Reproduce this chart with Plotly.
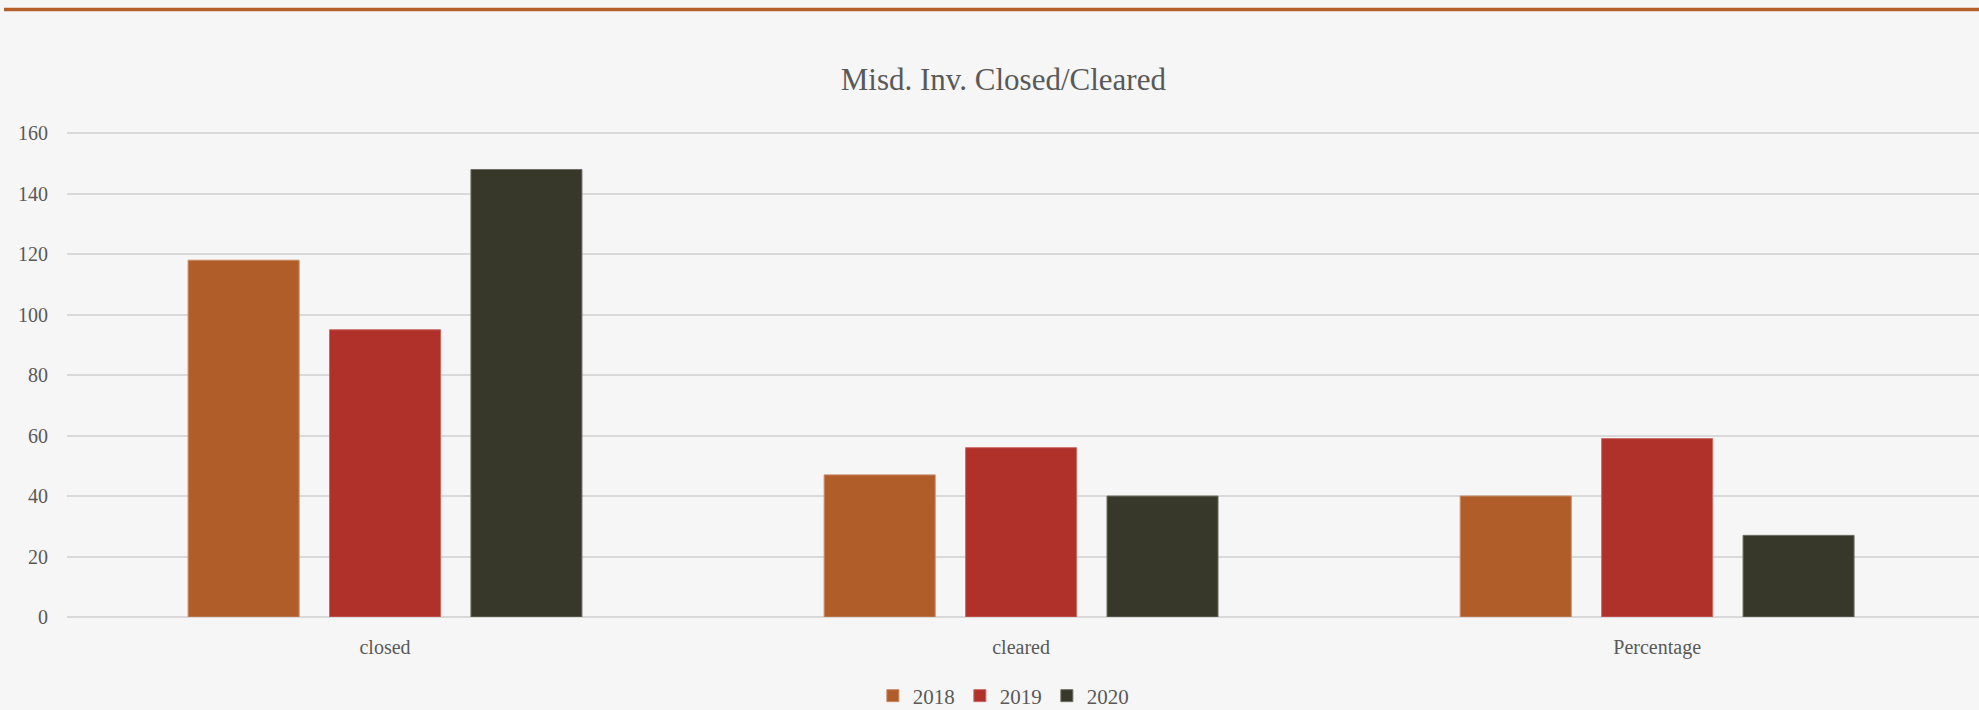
import plotly.graph_objects as go

categories = ["closed", "cleared", "Percentage"]
years = ["2018", "2019", "2020"]
values_2018 = [118, 47, 40]
values_2019 = [95, 56, 59]
values_2020 = [148, 40, 27]
colors = ["#B05D2A", "#B0302A", "#37382A"]
outlines = ["#C98A62", "#C86A64", "#6E6F62"]
y_ticks = [0, 20, 40, 60, 80, 100, 120, 140, 160]

series = [values_2018, values_2019, values_2020]

W, H = 1979, 710
ml, mr, mt, mb = 67, 0, 132, 93

fig = go.Figure()
for name, vals, c, oc in zip(years, series, colors, outlines):
    fig.add_trace(go.Bar(
        x=categories, y=vals, name=name,
        marker=dict(color=c, line=dict(color=oc, width=1)),
    ))

font_family = "Liberation Serif, DejaVu Serif, serif"
fig.update_layout(
    width=W, height=H,
    margin=dict(l=ml, r=mr, t=mt, b=mb),
    paper_bgcolor="#F6F6F6",
    plot_bgcolor="rgba(0,0,0,0)",
    barmode="group",
    bargap=0.333,
    bargroupgap=0.215,
    font=dict(family=font_family, color="#595959"),
    title=dict(
        text="Misd. Inv. Closed/Cleared",
        x=0.507, xanchor="center", xref="container",
        y=1 - 79 / H, yanchor="middle", yref="container",
        font=dict(size=31, color="#595959", family=font_family),
    ),
    legend=dict(
        orientation="h", x=0.507, xanchor="center", xref="container",
        y=1 - 696 / H, yanchor="middle", yref="container",
        font=dict(size=21, color="#595959"),
        itemwidth=30, traceorder="normal",
        bgcolor="rgba(0,0,0,0)",
    ),
    showlegend=True,
    xaxis=dict(
        range=[-0.5, 2.506],
        showgrid=False, showline=False, zeroline=False,
        ticks="", tickfont=dict(size=20, color="#595959"),
        ticklabelstandoff=16,
    ),
    yaxis=dict(
        range=[0, 160.4], tickvals=y_ticks,
        showgrid=True, gridcolor="#D9D9D9", gridwidth=1.5,
        zeroline=True, zerolinecolor="#D9D9D9", zerolinewidth=1.5,
        showline=False, ticks="",
        tickfont=dict(size=20, color="#595959"),
        ticklabelstandoff=18,
    ),
    shapes=[dict(
        type="line", xref="paper", yref="paper",
        x0=(4 - ml) / (W - ml - mr), x1=1.0,
        y0=(H - mb - 9.5) / (H - mt - mb), y1=(H - mb - 9.5) / (H - mt - mb),
        line=dict(color="#B5602A", width=3.5),
    )],
)

fig.write_html(
    "out.html",
    config={"displayModeBar": False},
    post_script="document.body.style.margin='0';document.body.style.background='#F6F6F6';",
)
